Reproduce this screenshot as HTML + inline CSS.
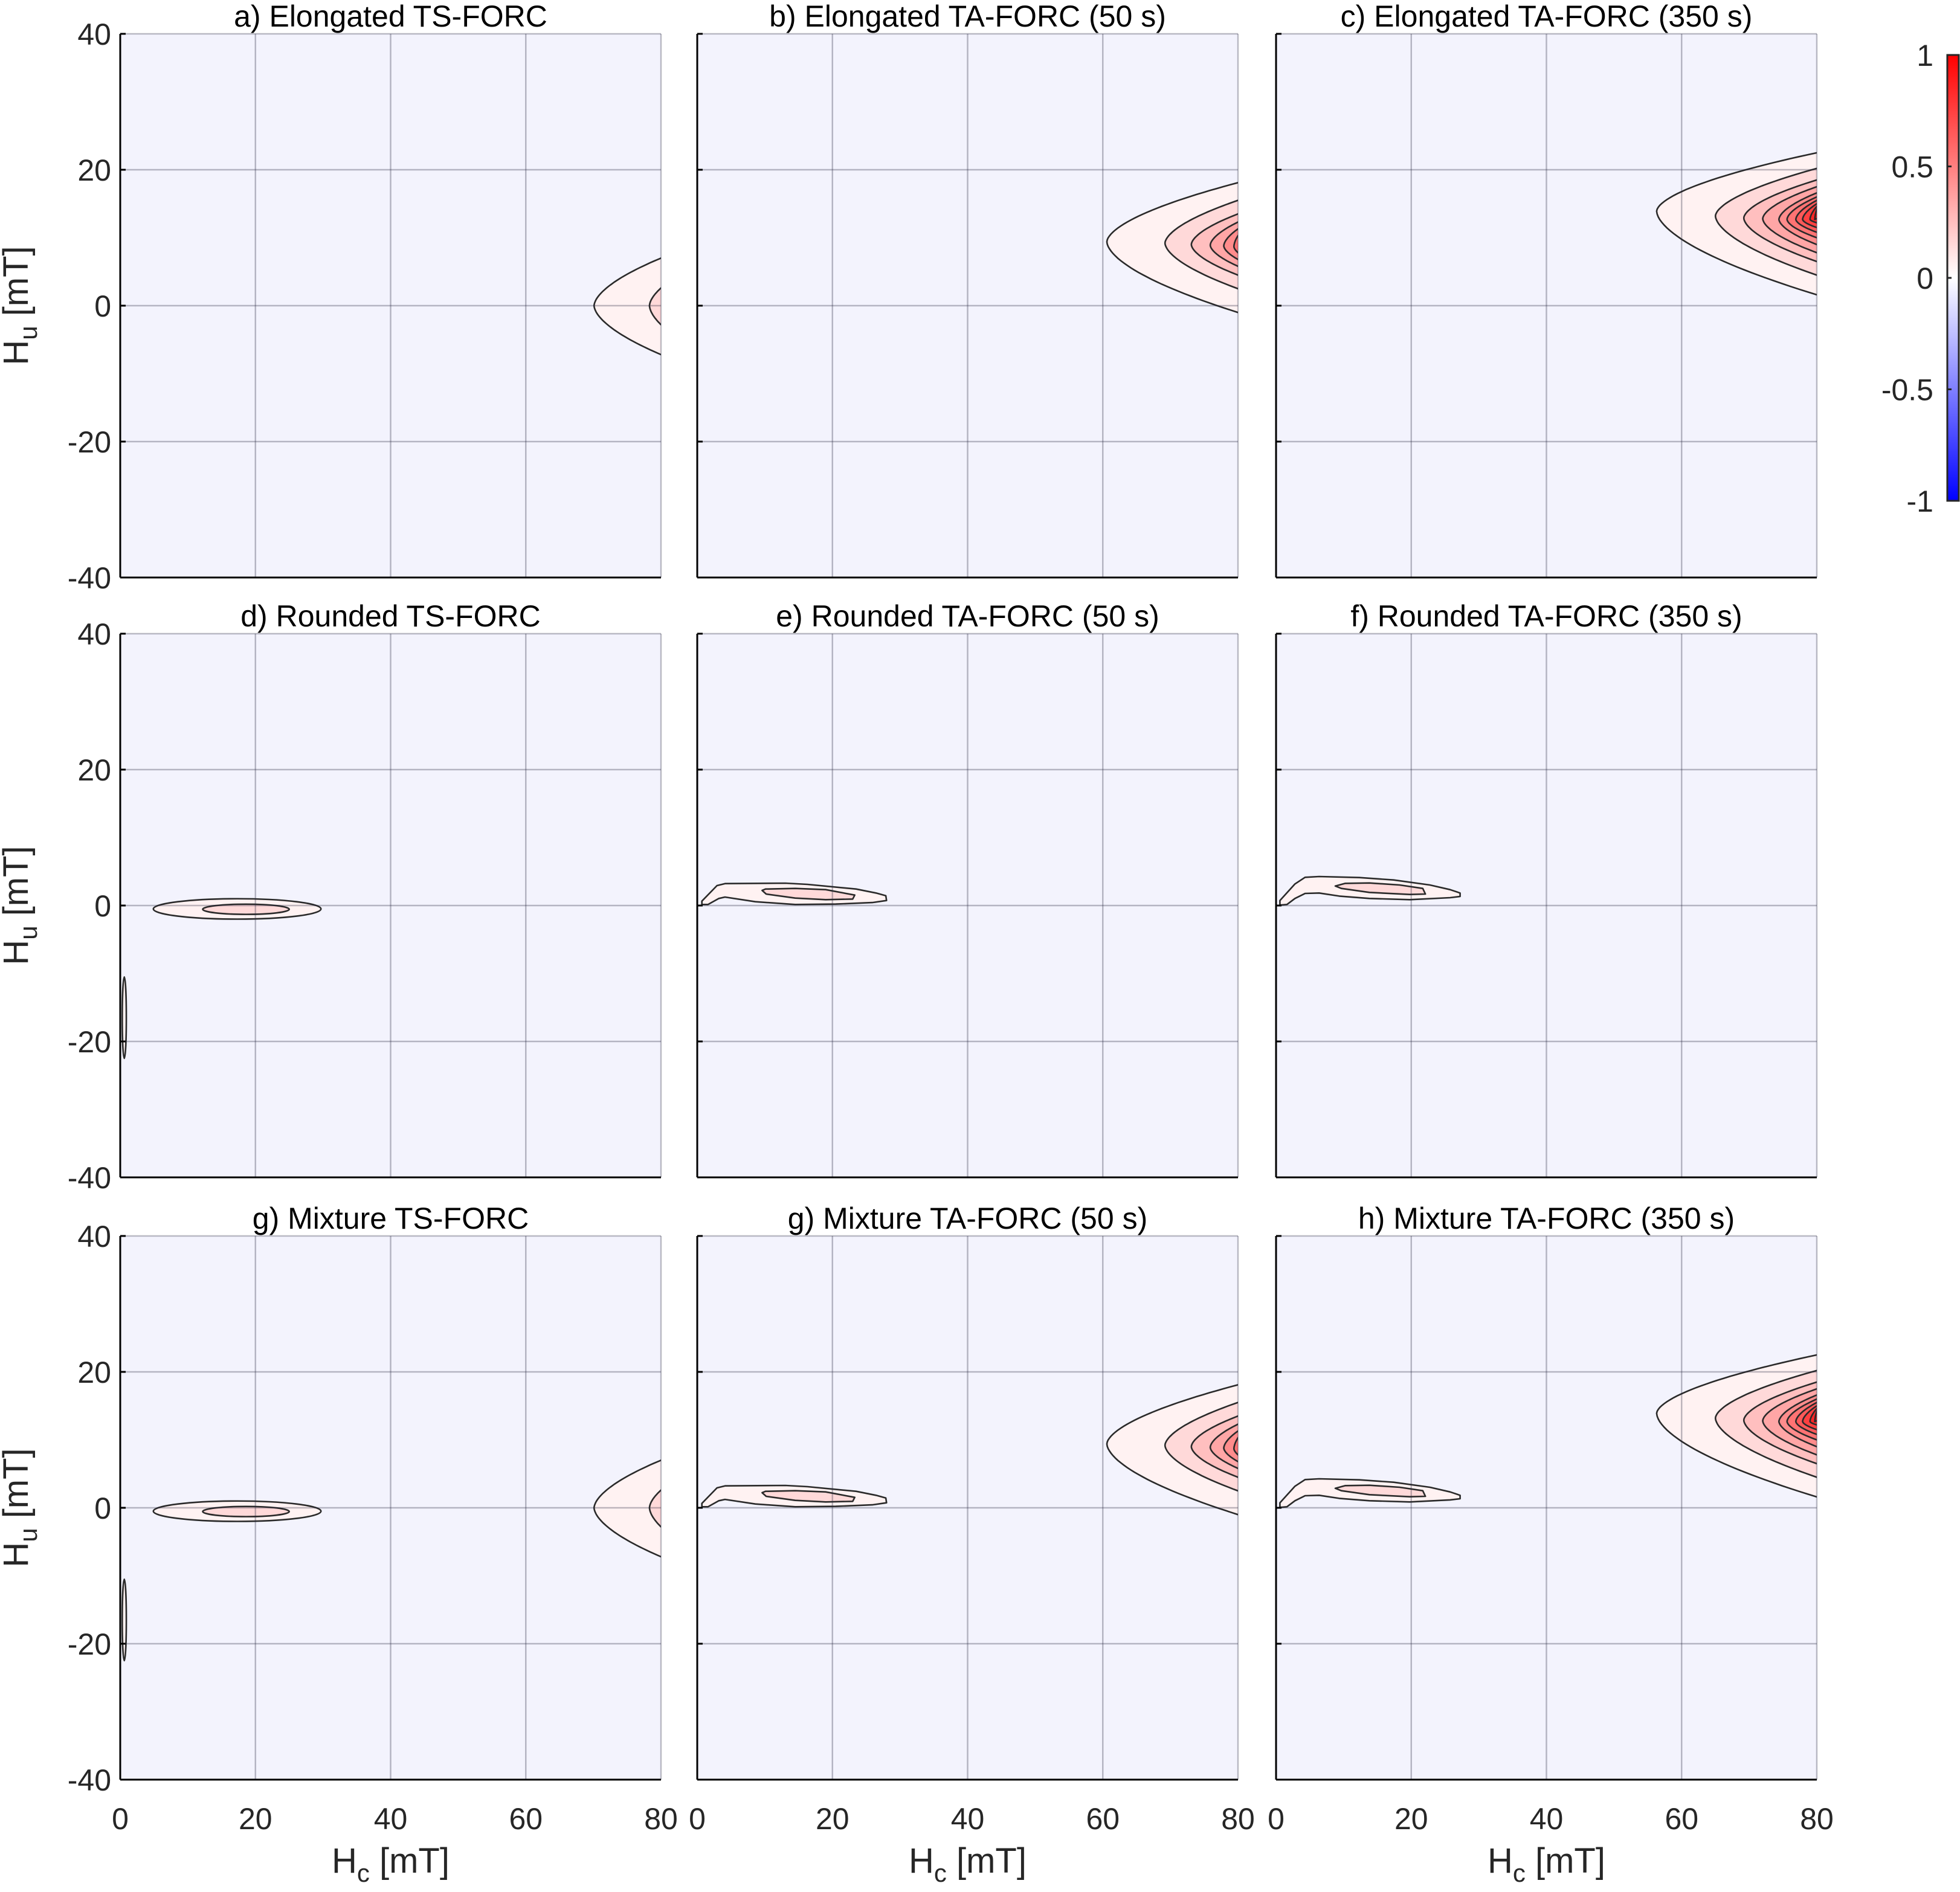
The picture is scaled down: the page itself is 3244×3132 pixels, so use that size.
<!DOCTYPE html>
<html><head><meta charset="utf-8"><style>
html,body{margin:0;padding:0;background:#fff;}
svg{display:block;font-family:"Liberation Sans",sans-serif;}
</style></head><body>
<svg id="fig" width="3244" height="3132" viewBox="0 0 3244 3132" xmlns="http://www.w3.org/2000/svg">
<defs>
<linearGradient id="cmap" x1="0" y1="1" x2="0" y2="0">
<stop offset="0" stop-color="#0000ff"/><stop offset="0.5" stop-color="#ffffff"/><stop offset="1" stop-color="#ff0000"/>
</linearGradient>
</defs>
<g id="root"></g>
</svg>
<script>
// ---- data ----
var hcTicks = [0, 20, 40, 60, 80];
var huTicks = [40, 20, 0, -20, -40];
var cbTicks = [1, 0.5, 0, -0.5, -1];
var titles = ["a) Elongated TS-FORC","b) Elongated TA-FORC (50 s)","c) Elongated TA-FORC (350 s)",
              "d) Rounded TS-FORC","e) Rounded TA-FORC (50 s)","f) Rounded TA-FORC (350 s)",
              "g) Mixture TS-FORC","g) Mixture TA-FORC (50 s)","h) Mixture TA-FORC (350 s)"];
var elA_apex = [70.1, 78.3];
var elA_yc   = [0, 0];
var elA_top  = [7.0, 2.6];
var elA_bot  = [-7.2, -2.8];
var elB_apex = [60.6, 69.2, 73.1, 75.9, 77.9, 79.4];
var elB_yc   = [9.4, 9.2, 9.0, 8.9, 8.8, 8.7];
var elB_top  = [18.1, 15.5, 13.5, 12.3, 11.3, 10.3];
var elB_bot  = [-1.0, 2.5, 4.5, 5.8, 6.8, 7.8];
var elC_apex = [56.3, 65.0, 69.2, 72.0, 74.4, 75.6, 76.9, 77.9, 79.0, 79.7];
var elC_yc   = [13.9, 13.2, 12.9, 12.8, 12.7, 12.7, 12.7, 12.7, 12.7, 12.7];
var elC_top  = [22.5, 20.2, 18.5, 17.5, 16.6, 16.0, 15.5, 15.0, 14.6, 14.2];
var elC_bot  = [1.6, 4.5, 6.5, 7.8, 9.0, 10.0, 10.8, 11.5, 12.2, 12.8];
var rdD_hcMin = [4.9, 12.2, 0.3];
var rdD_hcMax = [29.7, 25.0, 0.9];
var rdD_huTop = [1.0, 0.2, -10.5];
var rdD_huBot = [-2.0, -1.3, -22.5];
var rdD_level = [0, 1, 0];
var rdE_outerHc = [0.69,2.92,4.11,13.05,16.3,23.5,26.45,27.9,28.0,25.9,20.5,14.5,8.6,4.1,3.2,1.6,0.69];
var rdE_outerHu = [0.65,2.93,3.23,3.29,3.11,2.43,1.84,1.45,0.74,0.44,0.21,0.15,0.56,1.24,1.04,0.15,0.15];
var rdE_innerHc = [9.6,10.1,14.5,19.0,23.3,23.0,19.0,14.5,10.2];
var rdE_innerHu = [2.22,2.43,2.52,2.34,1.54,0.95,0.86,1.09,1.69];
var rdF_outerHc = [0.57,2.80,4.29,6.37,12.33,17.4,22.76,25.74,27.23,27.23,25.74,19.78,13.82,9.36,6.37,4.29,2.80,1.61,0.57];
var rdF_outerHu = [0.74,3.17,4.15,4.27,4.12,3.76,3.02,2.34,1.84,1.33,1.16,0.86,1.04,1.39,1.84,1.78,1.04,0.15,0.06];
var rdF_innerHc = [8.76,10.25,13.82,18.29,21.7,22.1,19.78,13.82,9.65];
var rdF_innerHu = [2.87,3.26,3.32,3.02,2.52,1.69,1.63,1.93,2.52];

// ---- layout ----
var NS = "http://www.w3.org/2000/svg";
var colL = [199, 1154, 2112], PW = 895;
var rowT = [56, 1049, 2046], PH = 900;
var root = document.getElementById('root');
function mk(tag, attrs, parent){ var e=document.createElementNS(NS,tag); for(var k in attrs) e.setAttribute(k,attrs[k]); (parent||root).appendChild(e); return e; }
function sx(c,hc){ return colL[c] + hc/80*PW; }
function sy(r,hu){ return rowT[r] + (40-hu)/80*PH; }
function fillFor(k){ var v=0.05+0.1*k; var g=Math.round(255*(1-v)); return "rgb(255,"+g+","+g+")"; }

function drawElong(g,c,r,apex,yc,top,bot){
  for(var k=0;k<apex.length;k++){
    var pts=[];
    for(var i=0;i<=60;i++){
      var f=1-2*i/60; var af=Math.abs(f);
      var hu = f>=0 ? yc[k]+(top[k]-yc[k])*f : yc[k]+(yc[k]-bot[k])*f;
      var hc = apex[k]+(80-apex[k])*Math.pow(af,1.7);
      pts.push(sx(c,hc).toFixed(1)+","+sy(r,hu).toFixed(1));
    }
    pts.push(sx(c,85)+","+sy(r,bot[k]).toFixed(1));
    pts.push(sx(c,85)+","+sy(r,top[k]).toFixed(1));
    var p=mk('polygon',{points:pts.join(' '),fill:fillFor(k),stroke:'#2a2a2a','stroke-width':2.6},g);
    
    
  }
}
function drawLens(g,c,r){
  for(var k=0;k<rdD_hcMin.length;k++){
    var cx=(rdD_hcMin[k]+rdD_hcMax[k])/2, rx=(rdD_hcMax[k]-rdD_hcMin[k])/2;
    var cy=(rdD_huTop[k]+rdD_huBot[k])/2, ry=(rdD_huTop[k]-rdD_huBot[k])/2;
    var e=mk('ellipse',{cx:sx(c,cx),cy:sy(r,cy),rx:rx/80*PW,ry:ry/80*PH,fill:fillFor(rdD_level[k]),stroke:'#2a2a2a','stroke-width':2.6},g);
    
    
  }
}
function drawPoly(g,c,r,hcs,hus,lvl,name){
  var pts=[]; for(var i=0;i<hcs.length;i++) pts.push(sx(c,hcs[i]).toFixed(1)+","+sy(r,hus[i]).toFixed(1));
  var p=mk('polygon',{points:pts.join(' '),fill:fillFor(lvl),stroke:'#2a2a2a','stroke-width':2.6,'stroke-linejoin':'round'},g);
  
  
}

for(var r=0;r<3;r++){
  for(var c=0;c<3;c++){
    var idx=r*3+c, L=colL[c], T=rowT[r];
    var panel=mk('g',{});
    
    
    mk('rect',{x:L,y:T,width:PW,height:PH,fill:'#f3f3fd'},panel);
    var clipId='clip'+idx;
    var cp=mk('clipPath',{id:clipId},panel); mk('rect',{x:L,y:T,width:PW,height:PH},cp);
    var cg=mk('g',{'clip-path':'url(#'+clipId+')'},panel);
    
    
    if(c===0 && r!==1) drawElong(cg,c,r,elA_apex,elA_yc,elA_top,elA_bot);
    if(c===1 && r!==1) drawElong(cg,c,r,elB_apex,elB_yc,elB_top,elB_bot);
    if(c===2 && r!==1) drawElong(cg,c,r,elC_apex,elC_yc,elC_top,elC_bot);
    if(c===0 && r>0) drawLens(cg,c,r);
    if(c===1 && r>0){ drawPoly(cg,c,r,rdE_outerHc,rdE_outerHu,0,'rounded-ta-outer'); drawPoly(cg,c,r,rdE_innerHc,rdE_innerHu,1,'rounded-ta-inner'); }
    if(c===2 && r>0){ drawPoly(cg,c,r,rdF_outerHc,rdF_outerHu,0,'rounded-ta-outer'); drawPoly(cg,c,r,rdF_innerHc,rdF_innerHu,1,'rounded-ta-inner'); }
    for(var i=0;i<hcTicks.length;i++){
      var gx=sx(c,hcTicks[i]);
      var gl=mk('line',{x1:gx,y1:T,x2:gx,y2:T+PH,stroke:'#26263a','stroke-opacity':0.3,'stroke-width':2.5},panel);
       
      if(r===2){
        var t=mk('text',{x:gx,y:3028,'font-size':50,'text-anchor':'middle',fill:'#262626'},panel); t.textContent=hcTicks[i];
         
      }
    }
    for(var j=0;j<huTicks.length;j++){
      var gy=sy(r,huTicks[j]);
      var hl=mk('line',{x1:L,y1:gy,x2:L+PW,y2:gy,stroke:'#26263a','stroke-opacity':0.3,'stroke-width':2.5},panel);
       
      mk('line',{x1:L,y1:gy,x2:L+9,y2:gy,stroke:'#000','stroke-width':3},panel);
      if(c===0){
        var yt=mk('text',{x:184,y:gy+18,'font-size':50,'text-anchor':'end',fill:'#262626'},panel); yt.textContent=huTicks[j];
         
      }
    }
    mk('line',{x1:L,y1:T,x2:L,y2:T+PH,stroke:'#000','stroke-width':3},panel);
    mk('line',{x1:L,y1:T+PH,x2:L+PW,y2:T+PH,stroke:'#000','stroke-width':3},panel);
    var tt=mk('text',{x:L+PW/2,y:T-12,'font-size':50,'text-anchor':'middle',fill:'#000'},panel); tt.textContent=titles[idx];
     
    if(c===0){
      var yl=mk('text',{x:0,y:0,'font-size':58,'text-anchor':'middle',fill:'#262626',transform:'translate(46,'+(T+PH/2)+') rotate(-90)'},panel);
      yl.innerHTML='H<tspan font-size="42" dy="15">u</tspan><tspan dy="-15"> [mT]</tspan>';
       
    }
    if(r===2){
      var xl=mk('text',{x:L+PW/2,y:3100,'font-size':58,'text-anchor':'middle',fill:'#262626'},panel);
      xl.innerHTML='H<tspan font-size="42" dy="15">c</tspan><tspan dy="-15"> [mT]</tspan>';
       
    }
  }
}
var cb=mk('g',{});  
var cbT=91, cbB=829;
mk('rect',{x:3223,y:cbT,width:19,height:cbB-cbT,fill:'url(#cmap)',stroke:'#262626','stroke-width':3},cb);
for(var q=0;q<cbTicks.length;q++){
  var ty=cbB-(cbTicks[q]+1)/2*(cbB-cbT);
  mk('line',{x1:3223,y1:ty,x2:3230,y2:ty,stroke:'#262626','stroke-width':3},cb);
  var ct=mk('text',{x:3200,y:ty+18,'font-size':50,'text-anchor':'end',fill:'#262626'},cb); ct.textContent=cbTicks[q];
   
}
</script>
</body></html>
